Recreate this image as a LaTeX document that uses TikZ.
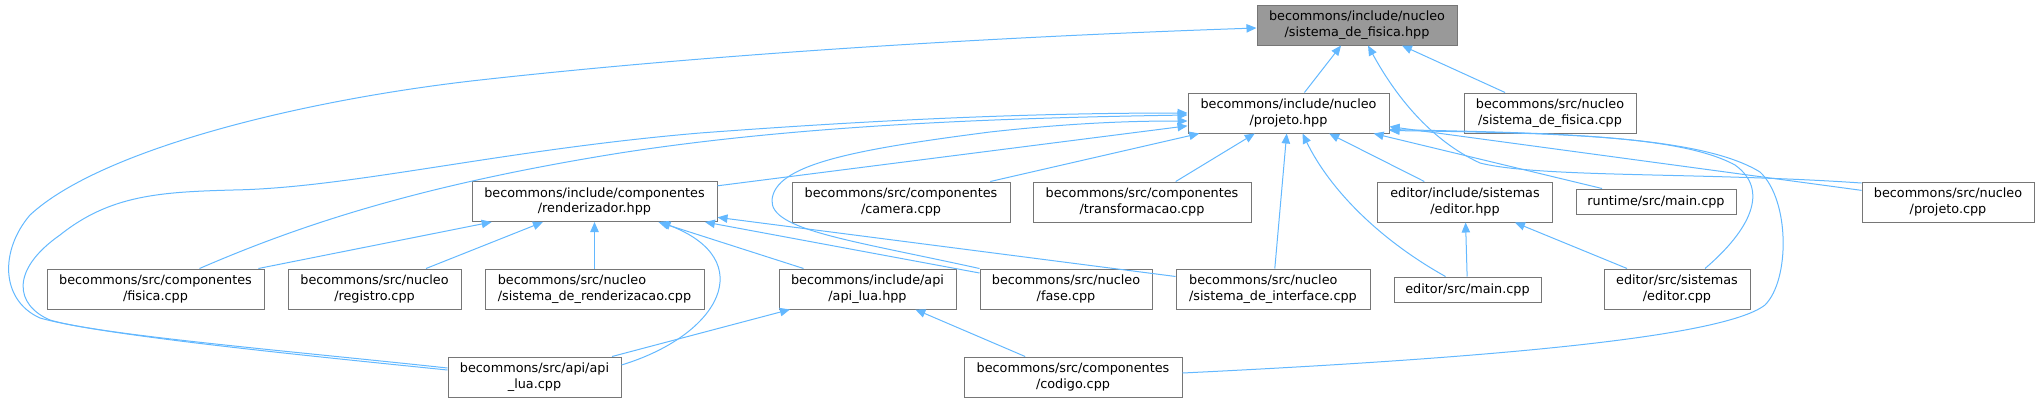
\documentclass[tikz,border=0pt]{standalone}
\usepackage{fontspec}
\setmainfont{DejaVu Sans}
\usepackage{xcolor}
\usepackage{tikz}
\usetikzlibrary{arrows.meta}
\definecolor{DoxEdge}{RGB}{99, 184, 255}
\definecolor{DoxBorder}{RGB}{118, 118, 118}
\definecolor{DoxFocus}{RGB}{153, 153, 153}

\begin{document}
\begin{tikzpicture}[x=0.5pt,y=-0.5pt,
    file/.style={draw=DoxBorder, line width=0.5pt, fill=white, inner sep=0pt, align=center,
                 font=\fontsize{6.4}{7.85}\selectfont, minimum height=20pt},
    fileone/.style={file, minimum height=12.5pt},
    focus/.style={file, fill=DoxFocus},
    incl/.style={draw=DoxEdge, line width=0.5pt, -{Triangle[length=5pt, width=4.2pt]}}]
  \path[use as bounding box] (0,0) rectangle (2041,403);

  % headers
  \node[focus, minimum width=100pt] (fis_hpp) at (1357,25) {becommons/include/nucleo\\/sistema\_de\_fisica.hpp};
  \node[file, minimum width=100.5pt] (projeto_hpp) at (1288.5,113) {becommons/include/nucleo\\/projeto.hpp};
  \node[file, minimum width=86pt] (fis_cpp) at (1550,113) {becommons/src/nucleo\\/sistema\_de\_fisica.cpp};

  % second row
  \node[file, minimum width=122.5pt] (render_hpp) at (594.5,201.5) {becommons/include/componentes\\/renderizador.hpp};
  \node[file, minimum width=109pt] (camera_cpp) at (901,202) {becommons/src/componentes\\/camera.cpp};
  \node[file, minimum width=109pt] (transf_cpp) at (1142,202) {becommons/src/componentes\\/transformacao.cpp};
  \node[file, minimum width=87.5pt] (editor_hpp) at (1465,202) {editor/include/sistemas\\/editor.hpp};
  \node[fileone, minimum width=80pt] (runtime_cpp) at (1656,201.5) {runtime/src/main.cpp};
  \node[file, minimum width=86pt] (projeto_cpp) at (1948,202) {becommons/src/nucleo\\/projeto.cpp};

  % third row
  \node[file, minimum width=108.5pt] (fisica_cpp) at (155.5,289) {becommons/src/componentes\\/fisica.cpp};
  \node[file, minimum width=86.5pt] (registro_cpp) at (374.5,289) {becommons/src/nucleo\\/registro.cpp};
  \node[file, minimum width=109.5pt, align=left] (sisrender_cpp) at (594.5,289) {becommons/src/nucleo\\/sistema\_de\_renderizacao.cpp};
  \node[file, minimum width=88.5pt] (apilua_hpp) at (867.5,289) {becommons/include/api\\/api\_lua.hpp};
  \node[file, minimum width=86pt] (fase_cpp) at (1066,289) {becommons/src/nucleo\\/fase.cpp};
  \node[file, minimum width=97pt, align=left] (sisinter_cpp) at (1273,289) {becommons/src/nucleo\\/sistema\_de\_interface.cpp};
  \node[fileone, minimum width=73.5pt] (edmain_cpp) at (1467.5,289.5) {editor/src/main.cpp};
  \node[file, minimum width=73pt] (editor_cpp) at (1677,289) {editor/src/sistemas\\/editor.cpp};

  % bottom row
  \node[file, minimum width=86.5pt] (apilua_cpp) at (534.5,377) {becommons/src/api/api\\\_lua.cpp};
  \node[file, minimum width=109pt] (codigo_cpp) at (1073,377) {becommons/src/componentes\\/codigo.cpp};

  % straight includes
  \draw[incl] (projeto_hpp) -- (fis_hpp);
  \draw[incl] (fis_cpp) -- (fis_hpp);
  \draw[incl] (render_hpp) -- (projeto_hpp);
  \draw[incl] (camera_cpp) -- (projeto_hpp);
  \draw[incl] (transf_cpp) -- (projeto_hpp);
  \draw[incl] (sisinter_cpp) -- (projeto_hpp);
  \draw[incl] (editor_hpp) -- (projeto_hpp);
  \draw[incl] (runtime_cpp) -- (projeto_hpp);
  \draw[incl] (projeto_cpp) -- (projeto_hpp);
  \draw[incl] (fisica_cpp) -- (render_hpp);
  \draw[incl] (registro_cpp) -- (render_hpp);
  \draw[incl] (sisrender_cpp) -- (render_hpp);
  \draw[incl] (apilua_hpp) -- (render_hpp);
  \draw[incl] (fase_cpp) -- (render_hpp);
  \draw[incl] (sisinter_cpp) -- (render_hpp);
  \draw[incl] (apilua_cpp) -- (apilua_hpp);
  \draw[incl] (codigo_cpp) -- (apilua_hpp);
  \draw[incl] (edmain_cpp) -- (editor_hpp);
  \draw[incl] (editor_cpp) -- (editor_hpp);

  % curved includes
  \draw[incl] ([yshift=3.5pt]apilua_cpp.west) .. controls (300,355) and (100,335) .. (40,318)
    .. controls (0,300) and (0,250) .. (30,215) .. controls (100,150) and (300,100) .. (480,80)
    .. controls (750,50) and (1050,35) .. ([yshift=-1.5pt]fis_hpp.west);
  \draw[incl] ([yshift=4.5pt]apilua_cpp.west) .. controls (300,352) and (100,335) .. (50,320)
    .. controls (15,305) and (10,270) .. (60,235) .. controls (110,195) and (160,192) .. (233,190)
    .. controls (350,188) and (500,150) .. (700,133) .. controls (900,118) and (1050,113) .. (projeto_hpp.west);
  \draw[incl] ([xshift=22pt]fisica_cpp.north) .. controls (300,225) and (420,185) .. (620,153)
    .. controls (800,125) and (1000,118) .. ([yshift=-1pt]projeto_hpp.west);
  \draw[incl] (fase_cpp.north west) .. controls (850,240) and (770,230) .. (772,200)
    .. controls (775,165) and (850,150) .. (990,132) .. controls (1080,122) and (1140,121) .. ([yshift=-4pt]projeto_hpp.west);
  \draw[incl] ([xshift=-11pt]edmain_cpp.north) .. controls (1380,240) and (1330,190) .. ([xshift=7pt]projeto_hpp.south);
  \draw[incl] ([yshift=9.5pt]projeto_cpp.west) .. controls (1700,172) and (1540,178) .. (1480,163)
    .. controls (1430,140) and (1395,95) .. ([xshift=5.5pt]fis_hpp.south);
  \draw[incl] ([xshift=14pt]editor_cpp.north) .. controls (1750,230) and (1770,190) .. (1735,165)
    .. controls (1680,135) and (1550,133) .. ([yshift=2pt]projeto_hpp.south east);
  \draw[incl] ([yshift=2pt]codigo_cpp.east) .. controls (1450,360) and (1720,340) .. (1765,305)
    .. controls (1790,280) and (1790,200) .. (1760,172) .. controls (1700,135) and (1550,133) .. ([yshift=1.5pt]projeto_hpp.south east);
  \draw[incl] ([yshift=6pt]apilua_cpp.east) .. controls (720,335) and (760,260) .. ([xshift=33pt]render_hpp.south);
\end{tikzpicture}
\end{document}
